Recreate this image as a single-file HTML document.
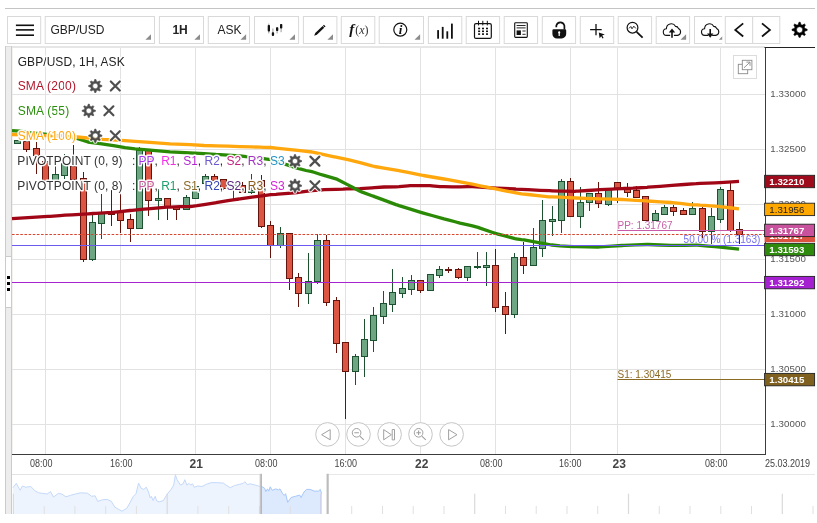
<!DOCTYPE html>
<html><head><meta charset="utf-8"><title>GBP/USD chart</title>
<style>html,body{margin:0;padding:0;background:#fff;}body{width:817px;height:523px;overflow:hidden;font-family:"Liberation Sans", sans-serif;}svg{display:block;will-change:transform;}text{font-family:"Liberation Sans", sans-serif;}</style>
</head><body>
<svg width="817" height="523" viewBox="0 0 817 523">
<rect width="817" height="523" fill="#fff"/>
<rect x="5" y="8" width="810" height="1" fill="#c4c4c4"/>
<rect x="5" y="46" width="760" height="2" fill="#e6e6e6"/>
<rect x="5" y="46" width="7" height="468" fill="#cbcbcb"/>
<rect x="6" y="46.5" width="5" height="467.5" fill="#ededed"/>
<rect x="12" y="48" width="1" height="406" fill="#f4f1f1"/>
<rect x="6" y="256" width="5" height="52" fill="#cbcbcb"/>
<rect x="6" y="257" width="5" height="50" fill="#fff"/>
<rect x="7" y="276" width="3" height="3" fill="#000"/>
<rect x="7" y="282" width="3" height="3" fill="#000"/>
<rect x="7" y="288" width="3" height="3" fill="#000"/>
<rect x="45.0" y="48" width="1" height="406" fill="#e2e2e2"/>
<rect x="120.0" y="48" width="1" height="406" fill="#e2e2e2"/>
<rect x="195.0" y="48" width="1" height="406" fill="#e2e2e2"/>
<rect x="270.0" y="48" width="1" height="406" fill="#e2e2e2"/>
<rect x="345.0" y="48" width="1" height="406" fill="#e2e2e2"/>
<rect x="420.0" y="48" width="1" height="406" fill="#e2e2e2"/>
<rect x="495.0" y="48" width="1" height="406" fill="#e2e2e2"/>
<rect x="570.0" y="48" width="1" height="406" fill="#e2e2e2"/>
<rect x="617.0" y="48" width="1" height="406" fill="#e2e2e2"/>
<rect x="720.0" y="48" width="1" height="406" fill="#e2e2e2"/>
<rect x="12" y="94.0" width="753" height="1" fill="#e2e2e2"/>
<rect x="12" y="149.0" width="753" height="1" fill="#e2e2e2"/>
<rect x="12" y="204.0" width="753" height="1" fill="#e2e2e2"/>
<rect x="12" y="259.0" width="753" height="1" fill="#e2e2e2"/>
<rect x="12" y="314.0" width="753" height="1" fill="#e2e2e2"/>
<rect x="12" y="369.0" width="753" height="1" fill="#e2e2e2"/>
<rect x="12" y="424.0" width="753" height="1" fill="#e2e2e2"/>
<text x="683.6" y="243.3" font-size="10" fill="#7570f0">50.00 % (1.3163)</text>
<g shape-rendering="crispEdges">
<rect x="17.0" y="140.0" width="1" height="3.0" fill="#1c5230"/>
<rect x="14.0" y="140" width="7" height="4" fill="#1c5230"/>
<rect x="15.0" y="141" width="5" height="2" fill="#6ea684"/>
<rect x="26.0" y="141.0" width="1" height="11.0" fill="#64140c"/>
<rect x="23.0" y="141" width="7" height="9" fill="#64140c"/>
<rect x="24.0" y="142" width="5" height="7" fill="#dc5442"/>
<rect x="36.0" y="142.0" width="1" height="32.0" fill="#64140c"/>
<rect x="33.0" y="148" width="7" height="8" fill="#64140c"/>
<rect x="34.0" y="149" width="5" height="6" fill="#dc5442"/>
<rect x="45.0" y="162.0" width="1" height="18.0" fill="#64140c"/>
<rect x="42.0" y="161" width="7" height="20" fill="#64140c"/>
<rect x="43.0" y="162" width="5" height="18" fill="#dc5442"/>
<rect x="55.0" y="166.0" width="1" height="14.0" fill="#1c5230"/>
<rect x="52.0" y="174" width="7" height="7" fill="#1c5230"/>
<rect x="53.0" y="175" width="5" height="5" fill="#6ea684"/>
<rect x="64.0" y="154.0" width="1" height="25.0" fill="#1c5230"/>
<rect x="61.0" y="163" width="7" height="13" fill="#1c5230"/>
<rect x="62.0" y="164" width="5" height="11" fill="#6ea684"/>
<rect x="73.0" y="145.0" width="1" height="35.0" fill="#64140c"/>
<rect x="70.0" y="166" width="7" height="14" fill="#64140c"/>
<rect x="71.0" y="167" width="5" height="12" fill="#dc5442"/>
<rect x="83.0" y="172.0" width="1" height="90.0" fill="#64140c"/>
<rect x="80.0" y="178" width="7" height="82" fill="#64140c"/>
<rect x="81.0" y="179" width="5" height="80" fill="#dc5442"/>
<rect x="92.0" y="215.0" width="1" height="46.0" fill="#1c5230"/>
<rect x="89.0" y="222" width="7" height="38" fill="#1c5230"/>
<rect x="90.0" y="223" width="5" height="36" fill="#6ea684"/>
<rect x="101.0" y="194.0" width="1" height="45.0" fill="#1c5230"/>
<rect x="98.0" y="212" width="7" height="12" fill="#1c5230"/>
<rect x="99.0" y="213" width="5" height="10" fill="#6ea684"/>
<rect x="111.0" y="190.0" width="1" height="36.0" fill="#64140c"/>
<rect x="108.0" y="212" width="7" height="3" fill="#64140c"/>
<rect x="109.0" y="213" width="5" height="1" fill="#dc5442"/>
<rect x="120.0" y="193.0" width="1" height="40.0" fill="#64140c"/>
<rect x="117.0" y="212" width="7" height="9" fill="#64140c"/>
<rect x="118.0" y="213" width="5" height="7" fill="#dc5442"/>
<rect x="130.0" y="214.0" width="1" height="28.0" fill="#64140c"/>
<rect x="127.0" y="219" width="7" height="10" fill="#64140c"/>
<rect x="128.0" y="220" width="5" height="8" fill="#dc5442"/>
<rect x="139.0" y="147.0" width="1" height="81.0" fill="#1c5230"/>
<rect x="136.0" y="150" width="7" height="79" fill="#1c5230"/>
<rect x="137.0" y="151" width="5" height="77" fill="#6ea684"/>
<rect x="148.0" y="151.0" width="1" height="65.0" fill="#64140c"/>
<rect x="145.0" y="150" width="7" height="51" fill="#64140c"/>
<rect x="146.0" y="151" width="5" height="49" fill="#dc5442"/>
<rect x="158.0" y="189.0" width="1" height="31.0" fill="#1c5230"/>
<rect x="155.0" y="198" width="7" height="3" fill="#1c5230"/>
<rect x="156.0" y="199" width="5" height="1" fill="#6ea684"/>
<rect x="167.0" y="198.0" width="1" height="22.0" fill="#64140c"/>
<rect x="164.0" y="198" width="7" height="9" fill="#64140c"/>
<rect x="165.0" y="199" width="5" height="7" fill="#dc5442"/>
<rect x="176.0" y="206.0" width="1" height="14.0" fill="#64140c"/>
<rect x="173.0" y="206" width="7" height="4" fill="#64140c"/>
<rect x="174.0" y="207" width="5" height="2" fill="#dc5442"/>
<rect x="186.0" y="195.0" width="1" height="14.0" fill="#1c5230"/>
<rect x="183.0" y="197" width="7" height="13" fill="#1c5230"/>
<rect x="184.0" y="198" width="5" height="11" fill="#6ea684"/>
<rect x="195.0" y="186.0" width="1" height="12.0" fill="#1c5230"/>
<rect x="192.0" y="186" width="7" height="13" fill="#1c5230"/>
<rect x="193.0" y="187" width="5" height="11" fill="#6ea684"/>
<rect x="205.0" y="174.0" width="1" height="9.0" fill="#1c5230"/>
<rect x="202.0" y="176" width="7" height="8" fill="#1c5230"/>
<rect x="203.0" y="177" width="5" height="6" fill="#6ea684"/>
<rect x="214.0" y="174.0" width="1" height="6.0" fill="#64140c"/>
<rect x="211.0" y="176" width="7" height="5" fill="#64140c"/>
<rect x="212.0" y="177" width="5" height="3" fill="#dc5442"/>
<rect x="223.0" y="179.0" width="1" height="11.0" fill="#64140c"/>
<rect x="220.0" y="179" width="7" height="10" fill="#64140c"/>
<rect x="221.0" y="180" width="5" height="8" fill="#dc5442"/>
<rect x="233.0" y="182.0" width="1" height="17.0" fill="#1c5230"/>
<rect x="230.0" y="184" width="7" height="5" fill="#1c5230"/>
<rect x="231.0" y="185" width="5" height="3" fill="#6ea684"/>
<rect x="242.0" y="182.0" width="1" height="10.0" fill="#64140c"/>
<rect x="239.0" y="185" width="7" height="8" fill="#64140c"/>
<rect x="240.0" y="186" width="5" height="6" fill="#dc5442"/>
<rect x="251.0" y="174.0" width="1" height="20.0" fill="#1c5230"/>
<rect x="248.0" y="190" width="7" height="3" fill="#1c5230"/>
<rect x="249.0" y="191" width="5" height="1" fill="#6ea684"/>
<rect x="261.0" y="175.0" width="1" height="53.0" fill="#64140c"/>
<rect x="258.0" y="180" width="7" height="47" fill="#64140c"/>
<rect x="259.0" y="181" width="5" height="45" fill="#dc5442"/>
<rect x="270.0" y="221.0" width="1" height="37.0" fill="#64140c"/>
<rect x="267.0" y="225" width="7" height="21" fill="#64140c"/>
<rect x="268.0" y="226" width="5" height="19" fill="#dc5442"/>
<rect x="280.0" y="227.0" width="1" height="21.0" fill="#1c5230"/>
<rect x="277.0" y="233" width="7" height="13" fill="#1c5230"/>
<rect x="278.0" y="234" width="5" height="11" fill="#6ea684"/>
<rect x="289.0" y="234.0" width="1" height="56.0" fill="#64140c"/>
<rect x="286.0" y="233" width="7" height="46" fill="#64140c"/>
<rect x="287.0" y="234" width="5" height="44" fill="#dc5442"/>
<rect x="298.0" y="273.0" width="1" height="34.0" fill="#64140c"/>
<rect x="295.0" y="277" width="7" height="17" fill="#64140c"/>
<rect x="296.0" y="278" width="5" height="15" fill="#dc5442"/>
<rect x="308.0" y="253.0" width="1" height="51.0" fill="#1c5230"/>
<rect x="305.0" y="281" width="7" height="13" fill="#1c5230"/>
<rect x="306.0" y="282" width="5" height="11" fill="#6ea684"/>
<rect x="317.0" y="234.0" width="1" height="50.0" fill="#1c5230"/>
<rect x="314.0" y="240" width="7" height="42" fill="#1c5230"/>
<rect x="315.0" y="241" width="5" height="40" fill="#6ea684"/>
<rect x="326.0" y="235.0" width="1" height="71.0" fill="#64140c"/>
<rect x="323.0" y="240" width="7" height="63" fill="#64140c"/>
<rect x="324.0" y="241" width="5" height="61" fill="#dc5442"/>
<rect x="336.0" y="297.0" width="1" height="56.0" fill="#64140c"/>
<rect x="333.0" y="300" width="7" height="44" fill="#64140c"/>
<rect x="334.0" y="301" width="5" height="42" fill="#dc5442"/>
<rect x="345.0" y="342.0" width="1" height="77.0" fill="#64140c"/>
<rect x="342.0" y="342" width="7" height="30" fill="#64140c"/>
<rect x="343.0" y="343" width="5" height="28" fill="#dc5442"/>
<rect x="355.0" y="354.0" width="1" height="31.0" fill="#1c5230"/>
<rect x="352.0" y="356" width="7" height="16" fill="#1c5230"/>
<rect x="353.0" y="357" width="5" height="14" fill="#6ea684"/>
<rect x="364.0" y="319.0" width="1" height="58.0" fill="#1c5230"/>
<rect x="361.0" y="339" width="7" height="18" fill="#1c5230"/>
<rect x="362.0" y="340" width="5" height="16" fill="#6ea684"/>
<rect x="373.0" y="307.0" width="1" height="45.0" fill="#1c5230"/>
<rect x="370.0" y="315" width="7" height="26" fill="#1c5230"/>
<rect x="371.0" y="316" width="5" height="24" fill="#6ea684"/>
<rect x="383.0" y="291.0" width="1" height="33.0" fill="#1c5230"/>
<rect x="380.0" y="303" width="7" height="14" fill="#1c5230"/>
<rect x="381.0" y="304" width="5" height="12" fill="#6ea684"/>
<rect x="392.0" y="269.0" width="1" height="43.0" fill="#1c5230"/>
<rect x="389.0" y="292" width="7" height="13" fill="#1c5230"/>
<rect x="390.0" y="293" width="5" height="11" fill="#6ea684"/>
<rect x="402.0" y="277.0" width="1" height="21.0" fill="#1c5230"/>
<rect x="399.0" y="288" width="7" height="6" fill="#1c5230"/>
<rect x="400.0" y="289" width="5" height="4" fill="#6ea684"/>
<rect x="411.0" y="275.0" width="1" height="20.0" fill="#1c5230"/>
<rect x="408.0" y="280" width="7" height="10" fill="#1c5230"/>
<rect x="409.0" y="281" width="5" height="8" fill="#6ea684"/>
<rect x="420.0" y="280.0" width="1" height="13.0" fill="#64140c"/>
<rect x="417.0" y="280" width="7" height="11" fill="#64140c"/>
<rect x="418.0" y="281" width="5" height="9" fill="#dc5442"/>
<rect x="430.0" y="274.0" width="1" height="16.0" fill="#1c5230"/>
<rect x="427.0" y="274" width="7" height="17" fill="#1c5230"/>
<rect x="428.0" y="275" width="5" height="15" fill="#6ea684"/>
<rect x="439.0" y="266.0" width="1" height="12.0" fill="#1c5230"/>
<rect x="436.0" y="269" width="7" height="7" fill="#1c5230"/>
<rect x="437.0" y="270" width="5" height="5" fill="#6ea684"/>
<rect x="448.0" y="267.0" width="1" height="6.0" fill="#64140c"/>
<rect x="445.0" y="269" width="7" height="2" fill="#64140c"/>
<rect x="458.0" y="268.0" width="1" height="11.0" fill="#64140c"/>
<rect x="455.0" y="269" width="7" height="9" fill="#64140c"/>
<rect x="456.0" y="270" width="5" height="7" fill="#dc5442"/>
<rect x="467.0" y="266.0" width="1" height="15.0" fill="#1c5230"/>
<rect x="464.0" y="266" width="7" height="12" fill="#1c5230"/>
<rect x="465.0" y="267" width="5" height="10" fill="#6ea684"/>
<rect x="477.0" y="252.0" width="1" height="17.0" fill="#1c5230"/>
<rect x="474.0" y="266" width="7" height="2" fill="#1c5230"/>
<rect x="486.0" y="252.0" width="1" height="34.0" fill="#1c5230"/>
<rect x="483.0" y="265" width="7" height="3" fill="#1c5230"/>
<rect x="484.0" y="266" width="5" height="1" fill="#6ea684"/>
<rect x="495.0" y="249.0" width="1" height="63.0" fill="#64140c"/>
<rect x="492.0" y="265" width="7" height="43" fill="#64140c"/>
<rect x="493.0" y="266" width="5" height="41" fill="#dc5442"/>
<rect x="505.0" y="292.0" width="1" height="42.0" fill="#64140c"/>
<rect x="502.0" y="306" width="7" height="9" fill="#64140c"/>
<rect x="503.0" y="307" width="5" height="7" fill="#dc5442"/>
<rect x="514.0" y="253.0" width="1" height="65.0" fill="#1c5230"/>
<rect x="511.0" y="257" width="7" height="58" fill="#1c5230"/>
<rect x="512.0" y="258" width="5" height="56" fill="#6ea684"/>
<rect x="523.0" y="242.0" width="1" height="32.0" fill="#64140c"/>
<rect x="520.0" y="257" width="7" height="9" fill="#64140c"/>
<rect x="521.0" y="258" width="5" height="7" fill="#dc5442"/>
<rect x="533.0" y="228.0" width="1" height="38.0" fill="#1c5230"/>
<rect x="530.0" y="247" width="7" height="19" fill="#1c5230"/>
<rect x="531.0" y="248" width="5" height="17" fill="#6ea684"/>
<rect x="542.0" y="200.0" width="1" height="57.0" fill="#1c5230"/>
<rect x="539.0" y="220" width="7" height="29" fill="#1c5230"/>
<rect x="540.0" y="221" width="5" height="27" fill="#6ea684"/>
<rect x="552.0" y="206.0" width="1" height="30.0" fill="#1c5230"/>
<rect x="549.0" y="219" width="7" height="3" fill="#1c5230"/>
<rect x="550.0" y="220" width="5" height="1" fill="#6ea684"/>
<rect x="561.0" y="179.0" width="1" height="54.0" fill="#1c5230"/>
<rect x="558.0" y="181" width="7" height="40" fill="#1c5230"/>
<rect x="559.0" y="182" width="5" height="38" fill="#6ea684"/>
<rect x="570.0" y="178.0" width="1" height="39.0" fill="#64140c"/>
<rect x="567.0" y="181" width="7" height="36" fill="#64140c"/>
<rect x="568.0" y="182" width="5" height="34" fill="#dc5442"/>
<rect x="580.0" y="187.0" width="1" height="41.0" fill="#1c5230"/>
<rect x="577.0" y="202" width="7" height="15" fill="#1c5230"/>
<rect x="578.0" y="203" width="5" height="13" fill="#6ea684"/>
<rect x="589.0" y="194.0" width="1" height="17.0" fill="#1c5230"/>
<rect x="586.0" y="193" width="7" height="10" fill="#1c5230"/>
<rect x="587.0" y="194" width="5" height="8" fill="#6ea684"/>
<rect x="598.0" y="182.0" width="1" height="26.0" fill="#64140c"/>
<rect x="595.0" y="193" width="7" height="11" fill="#64140c"/>
<rect x="596.0" y="194" width="5" height="9" fill="#dc5442"/>
<rect x="608.0" y="189.0" width="1" height="17.0" fill="#1c5230"/>
<rect x="605.0" y="189" width="7" height="16" fill="#1c5230"/>
<rect x="606.0" y="190" width="5" height="14" fill="#6ea684"/>
<rect x="617.0" y="182.0" width="1" height="21.0" fill="#64140c"/>
<rect x="614.0" y="182" width="7" height="8" fill="#64140c"/>
<rect x="615.0" y="183" width="5" height="6" fill="#dc5442"/>
<rect x="627.0" y="183.0" width="1" height="14.0" fill="#64140c"/>
<rect x="624.0" y="187" width="7" height="6" fill="#64140c"/>
<rect x="625.0" y="188" width="5" height="4" fill="#dc5442"/>
<rect x="636.0" y="186.0" width="1" height="12.0" fill="#64140c"/>
<rect x="633.0" y="190" width="7" height="8" fill="#64140c"/>
<rect x="634.0" y="191" width="5" height="6" fill="#dc5442"/>
<rect x="645.0" y="196.0" width="1" height="24.0" fill="#64140c"/>
<rect x="642.0" y="196" width="7" height="25" fill="#64140c"/>
<rect x="643.0" y="197" width="5" height="23" fill="#dc5442"/>
<rect x="655.0" y="210.0" width="1" height="10.0" fill="#1c5230"/>
<rect x="652.0" y="213" width="7" height="8" fill="#1c5230"/>
<rect x="653.0" y="214" width="5" height="6" fill="#6ea684"/>
<rect x="664.0" y="205.0" width="1" height="9.0" fill="#1c5230"/>
<rect x="661.0" y="207" width="7" height="8" fill="#1c5230"/>
<rect x="662.0" y="208" width="5" height="6" fill="#6ea684"/>
<rect x="673.0" y="205.0" width="1" height="11.0" fill="#64140c"/>
<rect x="670.0" y="207" width="7" height="5" fill="#64140c"/>
<rect x="671.0" y="208" width="5" height="3" fill="#dc5442"/>
<rect x="683.0" y="208.0" width="1" height="6.0" fill="#64140c"/>
<rect x="680.0" y="210" width="7" height="5" fill="#64140c"/>
<rect x="681.0" y="211" width="5" height="3" fill="#dc5442"/>
<rect x="692.0" y="202.0" width="1" height="12.0" fill="#1c5230"/>
<rect x="689.0" y="208" width="7" height="7" fill="#1c5230"/>
<rect x="690.0" y="209" width="5" height="5" fill="#6ea684"/>
<rect x="702.0" y="207.0" width="1" height="31.0" fill="#64140c"/>
<rect x="699.0" y="208" width="7" height="24" fill="#64140c"/>
<rect x="700.0" y="209" width="5" height="22" fill="#dc5442"/>
<rect x="711.0" y="208.0" width="1" height="36.0" fill="#1c5230"/>
<rect x="708.0" y="216" width="7" height="16" fill="#1c5230"/>
<rect x="709.0" y="217" width="5" height="14" fill="#6ea684"/>
<rect x="720.0" y="187.0" width="1" height="36.0" fill="#1c5230"/>
<rect x="717.0" y="189" width="7" height="31" fill="#1c5230"/>
<rect x="718.0" y="190" width="5" height="29" fill="#6ea684"/>
<rect x="730.0" y="181.0" width="1" height="51.0" fill="#64140c"/>
<rect x="727.0" y="190" width="7" height="41" fill="#64140c"/>
<rect x="728.0" y="191" width="5" height="39" fill="#dc5442"/>
<rect x="739.0" y="222.0" width="1" height="22.0" fill="#64140c"/>
<rect x="736.0" y="229" width="7" height="6" fill="#64140c"/>
<rect x="737.0" y="230" width="5" height="4" fill="#dc5442"/>
</g>
<polyline points="12.0,218.7 24.0,217.9 36.0,217.2 48.0,216.4 50.0,216.3 60.0,215.6 65.0,215.2 72.0,214.8 84.0,214.1 88.3,213.8 93.0,213.5 96.0,213.4 108.0,212.7 111.0,212.6 120.0,211.6 130.0,210.5 132.0,210.3 144.0,209.2 148.0,208.8 156.0,208.1 167.0,207.2 168.0,207.2 170.0,207.1 180.0,206.7 190.0,206.5 192.0,206.3 197.0,205.7 204.0,204.6 215.0,202.8 216.0,202.7 228.0,200.6 233.0,199.8 239.0,199.0 240.0,198.8 252.0,197.2 256.0,196.6 264.0,195.6 270.8,194.7 276.0,194.4 278.0,194.2 288.0,193.4 297.0,192.6 300.0,192.2 312.0,190.7 322.0,189.8 324.0,189.7 336.0,189.3 343.0,189.1 346.7,188.9 348.0,188.9 360.0,188.6 372.0,187.8 374.5,187.6 384.0,187.0 396.0,186.8 399.0,186.7 408.0,185.8 410.0,185.6 415.0,185.6 420.0,185.6 430.0,185.6 432.0,185.8 440.0,186.6 444.0,186.7 452.0,186.9 456.0,186.9 460.0,186.8 468.0,186.7 472.4,186.7 480.0,187.2 492.0,187.9 496.9,188.2 504.0,188.5 515.0,189.0 516.0,189.1 521.4,189.4 528.0,189.7 540.0,190.3 550.0,190.7 552.0,190.8 560.0,191.1 564.0,191.1 575.0,191.3 576.0,191.2 578.0,191.1 588.0,190.5 597.0,189.9 600.0,189.7 612.0,189.1 615.0,188.9 622.0,188.6 624.0,188.5 633.0,188.2 636.0,188.0 647.0,187.3 648.0,187.2 660.0,186.3 672.0,185.4 684.0,184.5 696.0,183.7 697.0,183.6 700.0,183.4 708.0,183.2 715.0,182.9 720.0,182.6 732.0,181.8 739.0,181.3" fill="none" stroke="#a00616" stroke-width="3.3" stroke-linejoin="round" stroke-linecap="butt"/>
<polyline points="12.0,130.6 20.0,131.2 30.0,132.6 40.0,133.6 60.0,135.8 77.0,138.4 88.0,142.0 100.0,143.6 115.0,145.8 125.0,147.6 135.0,148.8 150.0,150.1 170.0,151.8 190.0,152.8 204.0,153.6 215.0,154.3 216.0,154.4 228.0,155.1 239.0,155.8 240.0,155.9 246.0,156.7 252.0,157.3 264.0,158.7 265.0,158.8 270.8,159.6 276.0,161.3 288.0,165.1 292.8,166.8 300.0,168.9 306.0,170.5 312.0,171.7 312.4,171.8 320.0,174.2 324.0,175.4 336.0,178.9 337.0,179.2 348.0,184.9 350.0,186.0 352.0,187.0 360.0,191.2 362.2,192.1 372.0,195.7 374.0,196.4 374.5,196.6 384.0,200.1 396.0,204.6 397.0,204.9 399.0,205.6 408.0,208.4 420.0,212.1 423.4,213.1 432.0,215.5 444.0,218.8 448.0,219.8 456.0,222.0 460.0,223.2 468.0,224.9 472.4,225.9 478.0,227.4 480.0,228.1 492.0,232.2 496.9,233.8 497.0,233.8 504.0,235.7 515.0,238.7 516.0,238.8 521.4,239.7 524.0,239.8 528.0,240.6 536.0,242.1 540.0,242.9 542.0,243.2 551.4,245.0 552.0,245.0 560.0,245.8 564.0,246.1 573.0,246.7 576.0,246.7 588.0,246.9 598.0,247.0 600.0,246.9 612.0,246.1 622.0,245.5 624.0,245.4 636.0,244.9 647.0,244.5 648.0,244.5 660.0,245.0 671.0,245.3 672.0,245.3 684.0,245.3 696.0,245.2 697.0,245.2 700.0,245.3 708.0,246.1 715.0,246.7 720.0,247.2 732.0,248.4 739.0,249.1" fill="none" stroke="#2a8a06" stroke-width="3.3" stroke-linejoin="round" stroke-linecap="butt"/>
<polyline points="12.0,134.5 40.0,135.4 77.0,137.0 103.0,139.3 125.0,140.7 135.0,141.4 150.0,142.3 170.0,143.9 190.0,144.7 204.0,145.5 216.0,145.8 228.0,146.2 240.0,146.6 252.0,146.9 260.0,147.2 264.0,147.3 270.8,147.5 276.0,148.1 288.0,149.4 300.0,150.7 312.0,152.0 315.0,152.7 324.0,154.6 333.0,156.6 336.0,157.2 346.7,159.4 348.0,159.7 360.0,162.6 372.0,165.9 374.5,166.5 384.0,168.1 396.0,170.1 399.0,170.6 400.0,170.8 408.0,172.4 420.0,174.8 423.4,175.5 432.0,177.0 444.0,179.0 448.0,179.7 456.0,181.1 460.0,181.9 468.0,183.4 472.4,184.2 480.0,185.8 492.0,188.2 496.9,189.2 504.0,190.6 516.0,192.8 521.4,193.8 524.0,194.1 528.0,194.5 540.0,195.8 549.0,196.8 552.0,196.9 560.0,197.2 564.0,197.4 576.0,198.0 585.7,198.4 588.0,198.5 600.0,198.9 612.0,199.2 622.0,199.5 624.0,199.6 636.0,200.3 647.0,200.9 648.0,201.0 660.0,201.8 671.0,202.5 672.0,202.6 680.0,203.4 684.0,203.8 692.0,204.8 696.0,204.9 697.0,204.9 700.0,205.2 708.0,205.7 710.0,205.8 715.0,206.2 718.7,206.4 720.0,206.6 732.0,208.0 739.0,208.8" fill="none" stroke="#ffa70c" stroke-width="3.3" stroke-linejoin="round" stroke-linecap="butt"/>
<rect x="12" y="282" width="753" height="1" fill="#a424d0"/>
<rect x="12" y="245" width="753" height="1" fill="#6a5af0"/>
<line x1="12" y1="234.5" x2="765" y2="234.5" stroke="#d9452f" stroke-width="1" stroke-dasharray="2.6,1.55"/>
<rect x="617.5" y="230" width="148" height="1" fill="#c85aa8"/>
<rect x="617.5" y="379" width="148" height="1" fill="#8b6a24"/>
<text x="617.5" y="229" font-size="10" fill="#c562a8">PP: 1.31767</text>
<text x="617.5" y="378" font-size="10" fill="#8b6a24">S1: 1.30415</text>
<text x="17.70" y="65.7" font-size="12" fill="#222" stroke="#fff" stroke-width="3.0" stroke-linejoin="round" paint-order="stroke" stroke-opacity="0.95" textLength="107" xml:space="preserve">GBP/USD, 1H, ASK</text>
<text x="17.65" y="89.8" font-size="12" fill="#b0152a" stroke="#fff" stroke-width="3.0" stroke-linejoin="round" paint-order="stroke" stroke-opacity="0.95" textLength="58.3" xml:space="preserve">SMA (200)</text>
<path d="M93.57 81.74 L94.15 81.29 L94.75 79.32 L95.85 79.32 L96.45 81.29 L97.03 81.74 L97.09 81.76 L97.82 81.86 L99.63 80.89 L100.41 81.67 L99.44 83.48 L99.54 84.21 L99.56 84.27 L100.01 84.85 L101.98 85.45 L101.98 86.55 L100.01 87.15 L99.56 87.73 L99.54 87.79 L99.44 88.52 L100.41 90.33 L99.63 91.11 L97.82 90.14 L97.09 90.24 L97.03 90.26 L96.45 90.71 L95.85 92.68 L94.75 92.68 L94.15 90.71 L93.57 90.26 L93.51 90.24 L92.78 90.14 L90.97 91.11 L90.19 90.33 L91.16 88.52 L91.06 87.79 L91.04 87.73 L90.59 87.15 L88.62 86.55 L88.62 85.45 L90.59 84.85 L91.04 84.27 L91.06 84.21 L91.16 83.48 L90.19 81.67 L90.97 80.89 L92.78 81.86 L93.51 81.76 Z M92.60 86.00 a2.70 2.70 0 1 0 5.40 0 a2.70 2.70 0 1 0 -5.40 0 Z" fill="none" stroke="#fff" stroke-width="2.8" stroke-linejoin="round" opacity="0.85"/>
<path d="M93.57 81.74 L94.15 81.29 L94.75 79.32 L95.85 79.32 L96.45 81.29 L97.03 81.74 L97.09 81.76 L97.82 81.86 L99.63 80.89 L100.41 81.67 L99.44 83.48 L99.54 84.21 L99.56 84.27 L100.01 84.85 L101.98 85.45 L101.98 86.55 L100.01 87.15 L99.56 87.73 L99.54 87.79 L99.44 88.52 L100.41 90.33 L99.63 91.11 L97.82 90.14 L97.09 90.24 L97.03 90.26 L96.45 90.71 L95.85 92.68 L94.75 92.68 L94.15 90.71 L93.57 90.26 L93.51 90.24 L92.78 90.14 L90.97 91.11 L90.19 90.33 L91.16 88.52 L91.06 87.79 L91.04 87.73 L90.59 87.15 L88.62 86.55 L88.62 85.45 L90.59 84.85 L91.04 84.27 L91.06 84.21 L91.16 83.48 L90.19 81.67 L90.97 80.89 L92.78 81.86 L93.51 81.76 Z M92.60 86.00 a2.70 2.70 0 1 0 5.40 0 a2.70 2.70 0 1 0 -5.40 0 Z" fill="#000" fill-rule="evenodd" stroke="#000" stroke-width="0.6" stroke-linejoin="round" opacity="0.69"/>
<path d="M110.8 81.5 L119.8 90.5 M119.8 81.5 L110.8 90.5" stroke="#fff" stroke-width="4.6" stroke-linecap="round" fill="none" opacity="0.9"/>
<g opacity="0.69"><path d="M110.8 81.5 L119.8 90.5 M119.8 81.5 L110.8 90.5" stroke="#000" stroke-width="2.2" stroke-linecap="round" fill="none"/></g>
<text x="17.65" y="114.6" font-size="12" fill="#2b8f0e" stroke="#fff" stroke-width="3.0" stroke-linejoin="round" paint-order="stroke" stroke-opacity="0.95" textLength="51.6" xml:space="preserve">SMA (55)</text>
<path d="M87.07 106.54 L87.65 106.09 L88.25 104.12 L89.35 104.12 L89.95 106.09 L90.53 106.54 L90.59 106.56 L91.32 106.66 L93.13 105.69 L93.91 106.47 L92.94 108.28 L93.04 109.01 L93.06 109.07 L93.51 109.65 L95.48 110.25 L95.48 111.35 L93.51 111.95 L93.06 112.53 L93.04 112.59 L92.94 113.32 L93.91 115.13 L93.13 115.91 L91.32 114.94 L90.59 115.04 L90.53 115.06 L89.95 115.51 L89.35 117.48 L88.25 117.48 L87.65 115.51 L87.07 115.06 L87.01 115.04 L86.28 114.94 L84.47 115.91 L83.69 115.13 L84.66 113.32 L84.56 112.59 L84.54 112.53 L84.09 111.95 L82.12 111.35 L82.12 110.25 L84.09 109.65 L84.54 109.07 L84.56 109.01 L84.66 108.28 L83.69 106.47 L84.47 105.69 L86.28 106.66 L87.01 106.56 Z M86.10 110.80 a2.70 2.70 0 1 0 5.40 0 a2.70 2.70 0 1 0 -5.40 0 Z" fill="none" stroke="#fff" stroke-width="2.8" stroke-linejoin="round" opacity="0.85"/>
<path d="M87.07 106.54 L87.65 106.09 L88.25 104.12 L89.35 104.12 L89.95 106.09 L90.53 106.54 L90.59 106.56 L91.32 106.66 L93.13 105.69 L93.91 106.47 L92.94 108.28 L93.04 109.01 L93.06 109.07 L93.51 109.65 L95.48 110.25 L95.48 111.35 L93.51 111.95 L93.06 112.53 L93.04 112.59 L92.94 113.32 L93.91 115.13 L93.13 115.91 L91.32 114.94 L90.59 115.04 L90.53 115.06 L89.95 115.51 L89.35 117.48 L88.25 117.48 L87.65 115.51 L87.07 115.06 L87.01 115.04 L86.28 114.94 L84.47 115.91 L83.69 115.13 L84.66 113.32 L84.56 112.59 L84.54 112.53 L84.09 111.95 L82.12 111.35 L82.12 110.25 L84.09 109.65 L84.54 109.07 L84.56 109.01 L84.66 108.28 L83.69 106.47 L84.47 105.69 L86.28 106.66 L87.01 106.56 Z M86.10 110.80 a2.70 2.70 0 1 0 5.40 0 a2.70 2.70 0 1 0 -5.40 0 Z" fill="#000" fill-rule="evenodd" stroke="#000" stroke-width="0.6" stroke-linejoin="round" opacity="0.69"/>
<path d="M104.4 106.3 L113.4 115.3 M113.4 106.3 L104.4 115.3" stroke="#fff" stroke-width="4.6" stroke-linecap="round" fill="none" opacity="0.9"/>
<g opacity="0.69"><path d="M104.4 106.3 L113.4 115.3 M113.4 106.3 L104.4 115.3" stroke="#000" stroke-width="2.2" stroke-linecap="round" fill="none"/></g>
<text x="17.65" y="139.5" font-size="12" fill="#ffa510" stroke="#fff" stroke-width="3.0" stroke-linejoin="round" paint-order="stroke" stroke-opacity="0.95" textLength="58.3" xml:space="preserve">SMA (100)</text>
<path d="M93.57 131.44 L94.15 130.99 L94.75 129.02 L95.85 129.02 L96.45 130.99 L97.03 131.44 L97.09 131.46 L97.82 131.56 L99.63 130.59 L100.41 131.37 L99.44 133.18 L99.54 133.91 L99.56 133.97 L100.01 134.55 L101.98 135.15 L101.98 136.25 L100.01 136.85 L99.56 137.43 L99.54 137.49 L99.44 138.22 L100.41 140.03 L99.63 140.81 L97.82 139.84 L97.09 139.94 L97.03 139.96 L96.45 140.41 L95.85 142.38 L94.75 142.38 L94.15 140.41 L93.57 139.96 L93.51 139.94 L92.78 139.84 L90.97 140.81 L90.19 140.03 L91.16 138.22 L91.06 137.49 L91.04 137.43 L90.59 136.85 L88.62 136.25 L88.62 135.15 L90.59 134.55 L91.04 133.97 L91.06 133.91 L91.16 133.18 L90.19 131.37 L90.97 130.59 L92.78 131.56 L93.51 131.46 Z M92.60 135.70 a2.70 2.70 0 1 0 5.40 0 a2.70 2.70 0 1 0 -5.40 0 Z" fill="none" stroke="#fff" stroke-width="2.8" stroke-linejoin="round" opacity="0.85"/>
<path d="M93.57 131.44 L94.15 130.99 L94.75 129.02 L95.85 129.02 L96.45 130.99 L97.03 131.44 L97.09 131.46 L97.82 131.56 L99.63 130.59 L100.41 131.37 L99.44 133.18 L99.54 133.91 L99.56 133.97 L100.01 134.55 L101.98 135.15 L101.98 136.25 L100.01 136.85 L99.56 137.43 L99.54 137.49 L99.44 138.22 L100.41 140.03 L99.63 140.81 L97.82 139.84 L97.09 139.94 L97.03 139.96 L96.45 140.41 L95.85 142.38 L94.75 142.38 L94.15 140.41 L93.57 139.96 L93.51 139.94 L92.78 139.84 L90.97 140.81 L90.19 140.03 L91.16 138.22 L91.06 137.49 L91.04 137.43 L90.59 136.85 L88.62 136.25 L88.62 135.15 L90.59 134.55 L91.04 133.97 L91.06 133.91 L91.16 133.18 L90.19 131.37 L90.97 130.59 L92.78 131.56 L93.51 131.46 Z M92.60 135.70 a2.70 2.70 0 1 0 5.40 0 a2.70 2.70 0 1 0 -5.40 0 Z" fill="#000" fill-rule="evenodd" stroke="#000" stroke-width="0.6" stroke-linejoin="round" opacity="0.69"/>
<path d="M110.8 131.2 L119.8 140.2 M119.8 131.2 L110.8 140.2" stroke="#fff" stroke-width="4.6" stroke-linecap="round" fill="none" opacity="0.9"/>
<g opacity="0.69"><path d="M110.8 131.2 L119.8 140.2 M119.8 131.2 L110.8 140.2" stroke="#000" stroke-width="2.2" stroke-linecap="round" fill="none"/></g>
<text x="17.30" y="164.9" font-size="12" fill="#333" stroke="#fff" stroke-width="3.0" stroke-linejoin="round" paint-order="stroke" stroke-opacity="0.95" textLength="105.3" xml:space="preserve">PIVOTPOINT (0, 9)</text>
<text x="131.90" y="164.9" font-size="12" fill="#333" stroke="#fff" stroke-width="3.0" stroke-linejoin="round" paint-order="stroke" stroke-opacity="0.95"  xml:space="preserve">:</text>
<text x="138.50" y="164.9" font-size="12" fill="#a535e8" stroke="#fff" stroke-width="3.0" stroke-linejoin="round" paint-order="stroke" stroke-opacity="0.95"  xml:space="preserve">PP</text>
<text x="154.50" y="164.9" font-size="12" fill="#2a2a2a" stroke="#fff" stroke-width="3.0" stroke-linejoin="round" paint-order="stroke" stroke-opacity="0.95"  xml:space="preserve">,</text>
<text x="161.17" y="164.9" font-size="12" fill="#f232e6" stroke="#fff" stroke-width="3.0" stroke-linejoin="round" paint-order="stroke" stroke-opacity="0.95"  xml:space="preserve">R1</text>
<text x="176.51" y="164.9" font-size="12" fill="#2a2a2a" stroke="#fff" stroke-width="3.0" stroke-linejoin="round" paint-order="stroke" stroke-opacity="0.95"  xml:space="preserve">,</text>
<text x="183.18" y="164.9" font-size="12" fill="#b424d4" stroke="#fff" stroke-width="3.0" stroke-linejoin="round" paint-order="stroke" stroke-opacity="0.95"  xml:space="preserve">S1</text>
<text x="197.85" y="164.9" font-size="12" fill="#2a2a2a" stroke="#fff" stroke-width="3.0" stroke-linejoin="round" paint-order="stroke" stroke-opacity="0.95"  xml:space="preserve">,</text>
<text x="204.52" y="164.9" font-size="12" fill="#6a5acd" stroke="#fff" stroke-width="3.0" stroke-linejoin="round" paint-order="stroke" stroke-opacity="0.95"  xml:space="preserve">R2</text>
<text x="219.86" y="164.9" font-size="12" fill="#2a2a2a" stroke="#fff" stroke-width="3.0" stroke-linejoin="round" paint-order="stroke" stroke-opacity="0.95"  xml:space="preserve">,</text>
<text x="226.53" y="164.9" font-size="12" fill="#c41f7c" stroke="#fff" stroke-width="3.0" stroke-linejoin="round" paint-order="stroke" stroke-opacity="0.95"  xml:space="preserve">S2</text>
<text x="241.20" y="164.9" font-size="12" fill="#2a2a2a" stroke="#fff" stroke-width="3.0" stroke-linejoin="round" paint-order="stroke" stroke-opacity="0.95"  xml:space="preserve">,</text>
<text x="247.87" y="164.9" font-size="12" fill="#a432c4" stroke="#fff" stroke-width="3.0" stroke-linejoin="round" paint-order="stroke" stroke-opacity="0.95"  xml:space="preserve">R3</text>
<text x="263.21" y="164.9" font-size="12" fill="#2a2a2a" stroke="#fff" stroke-width="3.0" stroke-linejoin="round" paint-order="stroke" stroke-opacity="0.95"  xml:space="preserve">,</text>
<text x="269.88" y="164.9" font-size="12" fill="#2492c4" stroke="#fff" stroke-width="3.0" stroke-linejoin="round" paint-order="stroke" stroke-opacity="0.95"  xml:space="preserve">S3</text>
<path d="M293.27 156.84 L293.85 156.39 L294.45 154.42 L295.55 154.42 L296.15 156.39 L296.73 156.84 L296.79 156.86 L297.52 156.96 L299.33 155.99 L300.11 156.77 L299.14 158.58 L299.24 159.31 L299.26 159.37 L299.71 159.95 L301.68 160.55 L301.68 161.65 L299.71 162.25 L299.26 162.83 L299.24 162.89 L299.14 163.62 L300.11 165.43 L299.33 166.21 L297.52 165.24 L296.79 165.34 L296.73 165.36 L296.15 165.81 L295.55 167.78 L294.45 167.78 L293.85 165.81 L293.27 165.36 L293.21 165.34 L292.48 165.24 L290.67 166.21 L289.89 165.43 L290.86 163.62 L290.76 162.89 L290.74 162.83 L290.29 162.25 L288.32 161.65 L288.32 160.55 L290.29 159.95 L290.74 159.37 L290.76 159.31 L290.86 158.58 L289.89 156.77 L290.67 155.99 L292.48 156.96 L293.21 156.86 Z M292.30 161.10 a2.70 2.70 0 1 0 5.40 0 a2.70 2.70 0 1 0 -5.40 0 Z" fill="none" stroke="#fff" stroke-width="2.8" stroke-linejoin="round" opacity="0.85"/>
<path d="M293.27 156.84 L293.85 156.39 L294.45 154.42 L295.55 154.42 L296.15 156.39 L296.73 156.84 L296.79 156.86 L297.52 156.96 L299.33 155.99 L300.11 156.77 L299.14 158.58 L299.24 159.31 L299.26 159.37 L299.71 159.95 L301.68 160.55 L301.68 161.65 L299.71 162.25 L299.26 162.83 L299.24 162.89 L299.14 163.62 L300.11 165.43 L299.33 166.21 L297.52 165.24 L296.79 165.34 L296.73 165.36 L296.15 165.81 L295.55 167.78 L294.45 167.78 L293.85 165.81 L293.27 165.36 L293.21 165.34 L292.48 165.24 L290.67 166.21 L289.89 165.43 L290.86 163.62 L290.76 162.89 L290.74 162.83 L290.29 162.25 L288.32 161.65 L288.32 160.55 L290.29 159.95 L290.74 159.37 L290.76 159.31 L290.86 158.58 L289.89 156.77 L290.67 155.99 L292.48 156.96 L293.21 156.86 Z M292.30 161.10 a2.70 2.70 0 1 0 5.40 0 a2.70 2.70 0 1 0 -5.40 0 Z" fill="#000" fill-rule="evenodd" stroke="#000" stroke-width="0.6" stroke-linejoin="round" opacity="0.69"/>
<path d="M310.4 156.6 L319.4 165.6 M319.4 156.6 L310.4 165.6" stroke="#fff" stroke-width="4.6" stroke-linecap="round" fill="none" opacity="0.9"/>
<g opacity="0.69"><path d="M310.4 156.6 L319.4 165.6 M319.4 156.6 L310.4 165.6" stroke="#000" stroke-width="2.2" stroke-linecap="round" fill="none"/></g>
<text x="17.30" y="189.5" font-size="12" fill="#333" stroke="#fff" stroke-width="3.0" stroke-linejoin="round" paint-order="stroke" stroke-opacity="0.95" textLength="105.3" xml:space="preserve">PIVOTPOINT (0, 8)</text>
<text x="131.90" y="189.5" font-size="12" fill="#333" stroke="#fff" stroke-width="3.0" stroke-linejoin="round" paint-order="stroke" stroke-opacity="0.95"  xml:space="preserve">:</text>
<text x="138.50" y="189.5" font-size="12" fill="#c55a9e" stroke="#fff" stroke-width="3.0" stroke-linejoin="round" paint-order="stroke" stroke-opacity="0.95"  xml:space="preserve">PP</text>
<text x="154.50" y="189.5" font-size="12" fill="#2a2a2a" stroke="#fff" stroke-width="3.0" stroke-linejoin="round" paint-order="stroke" stroke-opacity="0.95"  xml:space="preserve">,</text>
<text x="161.17" y="189.5" font-size="12" fill="#1fa070" stroke="#fff" stroke-width="3.0" stroke-linejoin="round" paint-order="stroke" stroke-opacity="0.95"  xml:space="preserve">R1</text>
<text x="176.51" y="189.5" font-size="12" fill="#2a2a2a" stroke="#fff" stroke-width="3.0" stroke-linejoin="round" paint-order="stroke" stroke-opacity="0.95"  xml:space="preserve">,</text>
<text x="183.18" y="189.5" font-size="12" fill="#8b6a24" stroke="#fff" stroke-width="3.0" stroke-linejoin="round" paint-order="stroke" stroke-opacity="0.95"  xml:space="preserve">S1</text>
<text x="197.85" y="189.5" font-size="12" fill="#2a2a2a" stroke="#fff" stroke-width="3.0" stroke-linejoin="round" paint-order="stroke" stroke-opacity="0.95"  xml:space="preserve">,</text>
<text x="204.52" y="189.5" font-size="12" fill="#3344b4" stroke="#fff" stroke-width="3.0" stroke-linejoin="round" paint-order="stroke" stroke-opacity="0.95"  xml:space="preserve">R2</text>
<text x="219.86" y="189.5" font-size="12" fill="#2a2a2a" stroke="#fff" stroke-width="3.0" stroke-linejoin="round" paint-order="stroke" stroke-opacity="0.95"  xml:space="preserve">,</text>
<text x="226.53" y="189.5" font-size="12" fill="#55267a" stroke="#fff" stroke-width="3.0" stroke-linejoin="round" paint-order="stroke" stroke-opacity="0.95"  xml:space="preserve">S2</text>
<text x="241.20" y="189.5" font-size="12" fill="#2a2a2a" stroke="#fff" stroke-width="3.0" stroke-linejoin="round" paint-order="stroke" stroke-opacity="0.95"  xml:space="preserve">,</text>
<text x="247.87" y="189.5" font-size="12" fill="#8b5a14" stroke="#fff" stroke-width="3.0" stroke-linejoin="round" paint-order="stroke" stroke-opacity="0.95"  xml:space="preserve">R3</text>
<text x="263.21" y="189.5" font-size="12" fill="#2a2a2a" stroke="#fff" stroke-width="3.0" stroke-linejoin="round" paint-order="stroke" stroke-opacity="0.95"  xml:space="preserve">,</text>
<text x="269.88" y="189.5" font-size="12" fill="#d424d4" stroke="#fff" stroke-width="3.0" stroke-linejoin="round" paint-order="stroke" stroke-opacity="0.95"  xml:space="preserve">S3</text>
<path d="M293.27 181.44 L293.85 180.99 L294.45 179.02 L295.55 179.02 L296.15 180.99 L296.73 181.44 L296.79 181.46 L297.52 181.56 L299.33 180.59 L300.11 181.37 L299.14 183.18 L299.24 183.91 L299.26 183.97 L299.71 184.55 L301.68 185.15 L301.68 186.25 L299.71 186.85 L299.26 187.43 L299.24 187.49 L299.14 188.22 L300.11 190.03 L299.33 190.81 L297.52 189.84 L296.79 189.94 L296.73 189.96 L296.15 190.41 L295.55 192.38 L294.45 192.38 L293.85 190.41 L293.27 189.96 L293.21 189.94 L292.48 189.84 L290.67 190.81 L289.89 190.03 L290.86 188.22 L290.76 187.49 L290.74 187.43 L290.29 186.85 L288.32 186.25 L288.32 185.15 L290.29 184.55 L290.74 183.97 L290.76 183.91 L290.86 183.18 L289.89 181.37 L290.67 180.59 L292.48 181.56 L293.21 181.46 Z M292.30 185.70 a2.70 2.70 0 1 0 5.40 0 a2.70 2.70 0 1 0 -5.40 0 Z" fill="none" stroke="#fff" stroke-width="2.8" stroke-linejoin="round" opacity="0.85"/>
<path d="M293.27 181.44 L293.85 180.99 L294.45 179.02 L295.55 179.02 L296.15 180.99 L296.73 181.44 L296.79 181.46 L297.52 181.56 L299.33 180.59 L300.11 181.37 L299.14 183.18 L299.24 183.91 L299.26 183.97 L299.71 184.55 L301.68 185.15 L301.68 186.25 L299.71 186.85 L299.26 187.43 L299.24 187.49 L299.14 188.22 L300.11 190.03 L299.33 190.81 L297.52 189.84 L296.79 189.94 L296.73 189.96 L296.15 190.41 L295.55 192.38 L294.45 192.38 L293.85 190.41 L293.27 189.96 L293.21 189.94 L292.48 189.84 L290.67 190.81 L289.89 190.03 L290.86 188.22 L290.76 187.49 L290.74 187.43 L290.29 186.85 L288.32 186.25 L288.32 185.15 L290.29 184.55 L290.74 183.97 L290.76 183.91 L290.86 183.18 L289.89 181.37 L290.67 180.59 L292.48 181.56 L293.21 181.46 Z M292.30 185.70 a2.70 2.70 0 1 0 5.40 0 a2.70 2.70 0 1 0 -5.40 0 Z" fill="#000" fill-rule="evenodd" stroke="#000" stroke-width="0.6" stroke-linejoin="round" opacity="0.69"/>
<path d="M310.4 181.2 L319.4 190.2 M319.4 181.2 L310.4 190.2" stroke="#fff" stroke-width="4.6" stroke-linecap="round" fill="none" opacity="0.9"/>
<g opacity="0.69"><path d="M310.4 181.2 L319.4 190.2 M319.4 181.2 L310.4 190.2" stroke="#000" stroke-width="2.2" stroke-linecap="round" fill="none"/></g>
<rect x="733.5" y="55.5" width="23" height="23" fill="#fff" stroke="#dcdcdc" stroke-width="1"/>
<rect x="738.3" y="64.3" width="9.4" height="9.4" fill="#fff" stroke="#8a8a8a" stroke-width="0.9"/>
<rect x="742.3" y="60.3" width="9.6" height="9.4" fill="#fff" stroke="#8a8a8a" stroke-width="0.9"/>
<path d="M744 67.8 L749.8 62.3 M746.3 62.1 L750 62.1 L750 65.8" stroke="#8a8a8a" stroke-width="0.9" fill="none"/>
<circle cx="327.5" cy="434.4" r="11.8" fill="#fff" fill-opacity="0.9" stroke="#c6c6c6" stroke-width="1"/>
<path d="M330.2 429.6 L330.2 439.8 L321.6 434.7 Z" fill="none" stroke="#a0a0a0" stroke-width="1" stroke-linejoin="round"/>
<circle cx="358.5" cy="434.4" r="11.8" fill="#fff" fill-opacity="0.9" stroke="#c6c6c6" stroke-width="1"/>
<circle cx="356.6" cy="432.8" r="4.3" fill="none" stroke="#a0a0a0" stroke-width="1"/>
<path d="M354.3 432.8 H358.9 M359.8 436.1 L363.8 439.8" stroke="#a0a0a0" stroke-width="1.1" fill="none"/>
<circle cx="389.6" cy="434.4" r="11.8" fill="#fff" fill-opacity="0.9" stroke="#c6c6c6" stroke-width="1"/>
<path d="M383.7 429.6 L383.7 439.8 L391.3 434.7 Z M392.2 429.5 V439.9 H394.5 V429.5 Z" fill="none" stroke="#a0a0a0" stroke-width="1" stroke-linejoin="round"/>
<circle cx="420.5" cy="434.4" r="11.8" fill="#fff" fill-opacity="0.9" stroke="#c6c6c6" stroke-width="1"/>
<circle cx="418.6" cy="432.8" r="4.3" fill="none" stroke="#a0a0a0" stroke-width="1"/>
<path d="M416.3 432.8 H420.9 M418.6 430.5 V435.1 M421.8 436.1 L425.8 439.8" stroke="#a0a0a0" stroke-width="1.1" fill="none"/>
<circle cx="451.6" cy="434.4" r="11.8" fill="#fff" fill-opacity="0.9" stroke="#c6c6c6" stroke-width="1"/>
<path d="M448.6 429.6 L448.6 439.8 L457 434.7 Z" fill="none" stroke="#a0a0a0" stroke-width="1" stroke-linejoin="round"/>
<rect x="12" y="454" width="754" height="1" fill="#3c3c3c"/>
<rect x="765" y="47" width="1" height="408" fill="#3c3c3c"/>
<rect x="764.5" y="47" width="50.5" height="1" fill="#222"/>
<text x="770.3" y="96.9" font-size="9.7" fill="#555" textLength="35.5" lengthAdjust="spacing">1.33000</text>
<text x="770.3" y="151.9" font-size="9.7" fill="#555" textLength="35.5" lengthAdjust="spacing">1.32500</text>
<text x="770.3" y="206.9" font-size="9.7" fill="#555" textLength="35.5" lengthAdjust="spacing">1.32000</text>
<text x="770.3" y="261.9" font-size="9.7" fill="#555" textLength="35.5" lengthAdjust="spacing">1.31500</text>
<text x="770.3" y="316.9" font-size="9.7" fill="#555" textLength="35.5" lengthAdjust="spacing">1.31000</text>
<text x="770.3" y="371.9" font-size="9.7" fill="#555" textLength="35.5" lengthAdjust="spacing">1.30500</text>
<text x="770.3" y="426.9" font-size="9.7" fill="#555" textLength="35.5" lengthAdjust="spacing">1.30000</text>
<rect x="764.6" y="175.3" width="50" height="12.4" fill="#9e0b1c" stroke="#222" stroke-width="0.9"/>
<text x="769.3" y="185.0" font-size="9.7" fill="#fff" font-weight="bold">1.32210</text>
<rect x="764.6" y="203.2" width="50" height="12.4" fill="#ffa800" stroke="#222" stroke-width="0.9"/>
<text x="769.3" y="212.9" font-size="9.7" fill="#222" font-weight="normal">1.31956</text>
<rect x="764.6" y="229.5" width="50.4" height="12.6" fill="#dc5241"/>
<text x="769.3" y="238.8" font-size="9.7" fill="#fff" font-weight="bold">1.31727</text>
<rect x="764.6" y="224.2" width="50" height="12.4" fill="#c9529e" stroke="#222" stroke-width="0.9"/>
<text x="769.3" y="233.9" font-size="9.7" fill="#fff" font-weight="bold">1.31767</text>
<rect x="764.6" y="243.3" width="50" height="12.4" fill="#2e8a0c" stroke="#222" stroke-width="0.9"/>
<text x="769.3" y="253.0" font-size="9.7" fill="#fff" font-weight="bold">1.31593</text>
<rect x="764.6" y="276.4" width="50" height="12.4" fill="#a420d0" stroke="#222" stroke-width="0.9"/>
<text x="769.3" y="286.1" font-size="9.7" fill="#fff" font-weight="bold">1.31292</text>
<rect x="764.6" y="373.4" width="50" height="12.4" fill="#7f601f" stroke="#222" stroke-width="0.9"/>
<text x="769.3" y="383.1" font-size="9.7" fill="#fff" font-weight="bold">1.30415</text>
<text x="29.9" y="466.8" font-size="10" fill="#444" textLength="22.5" lengthAdjust="spacingAndGlyphs">08:00</text>
<text x="109.9" y="466.8" font-size="10" fill="#444" textLength="22.5" lengthAdjust="spacingAndGlyphs">16:00</text>
<text x="189.6" y="468.1" font-size="13" font-weight="bold" fill="#444" textLength="13.4" lengthAdjust="spacingAndGlyphs">21</text>
<text x="254.9" y="466.8" font-size="10" fill="#444" textLength="22.5" lengthAdjust="spacingAndGlyphs">08:00</text>
<text x="334.4" y="466.8" font-size="10" fill="#444" textLength="22.5" lengthAdjust="spacingAndGlyphs">16:00</text>
<text x="415.1" y="468.1" font-size="13" font-weight="bold" fill="#444" textLength="13.4" lengthAdjust="spacingAndGlyphs">22</text>
<text x="479.9" y="466.8" font-size="10" fill="#444" textLength="22.5" lengthAdjust="spacingAndGlyphs">08:00</text>
<text x="558.9" y="466.8" font-size="10" fill="#444" textLength="22.5" lengthAdjust="spacingAndGlyphs">16:00</text>
<text x="612.6" y="468.1" font-size="13" font-weight="bold" fill="#444" textLength="13.4" lengthAdjust="spacingAndGlyphs">23</text>
<text x="704.9" y="466.8" font-size="10" fill="#444" textLength="22.5" lengthAdjust="spacingAndGlyphs">08:00</text>
<text x="764.9" y="466.8" font-size="10" fill="#444" textLength="45.2" lengthAdjust="spacingAndGlyphs">25.03.2019</text>
<rect x="12" y="474" width="248" height="1" fill="#e4e4e4"/>
<rect x="328.5" y="474" width="486.5" height="1" fill="#e8e8e8"/>
<path d="M12.9 514.0 L12.9 487.7 L16.3 483.4 L18.0 486.5 L20.2 490.3 L22.3 486.0 L25.7 487.2 L30.8 486.5 L34.3 490.3 L38.6 492.8 L42.8 493.4 L47.1 494.0 L50.5 491.6 L53.5 497.1 L58.3 493.4 L61.7 494.0 L66.0 496.8 L70.3 495.4 L75.4 494.0 L80.5 492.8 L87.4 493.2 L91.7 496.3 L95.1 495.8 L97.7 501.4 L102.8 499.7 L107.1 499.4 L111.4 501.4 L114.8 507.1 L118.2 509.1 L122.0 511.2 L126.8 508.3 L130.2 502.3 L133.4 496.3 L136.0 493.7 L138.6 483.1 L141.1 488.2 L143.7 489.4 L146.3 487.2 L148.5 492.0 L150.2 498.0 L151.4 496.3 L153.1 500.6 L155.2 496.3 L156.6 500.9 L159.1 501.9 L163.4 500.6 L166.8 494.6 L171.1 489.4 L173.7 485.1 L175.4 474.9 L177.1 479.7 L180.5 485.1 L183.1 483.8 L184.8 479.7 L186.9 485.1 L189.1 483.4 L190.8 485.1 L192.5 483.8 L194.3 487.2 L197.7 486.0 L202.0 486.5 L206.3 484.3 L211.4 482.6 L217.4 482.7 L223.4 483.1 L226.0 485.1 L230.2 487.7 L234.5 485.5 L239.7 484.3 L243.1 483.4 L244.8 481.7 L247.4 484.8 L249.9 483.8 L254.2 484.8 L258.5 486.0 L260.0 486.3 L260.0 514.0 Z" fill="#eef4fe"/>
<polyline points="12.9,487.7 16.3,483.4 18.0,486.5 20.2,490.3 22.3,486.0 25.7,487.2 30.8,486.5 34.3,490.3 38.6,492.8 42.8,493.4 47.1,494.0 50.5,491.6 53.5,497.1 58.3,493.4 61.7,494.0 66.0,496.8 70.3,495.4 75.4,494.0 80.5,492.8 87.4,493.2 91.7,496.3 95.1,495.8 97.7,501.4 102.8,499.7 107.1,499.4 111.4,501.4 114.8,507.1 118.2,509.1 122.0,511.2 126.8,508.3 130.2,502.3 133.4,496.3 136.0,493.7 138.6,483.1 141.1,488.2 143.7,489.4 146.3,487.2 148.5,492.0 150.2,498.0 151.4,496.3 153.1,500.6 155.2,496.3 156.6,500.9 159.1,501.9 163.4,500.6 166.8,494.6 171.1,489.4 173.7,485.1 175.4,474.9 177.1,479.7 180.5,485.1 183.1,483.8 184.8,479.7 186.9,485.1 189.1,483.4 190.8,485.1 192.5,483.8 194.3,487.2 197.7,486.0 202.0,486.5 206.3,484.3 211.4,482.6 217.4,482.7 223.4,483.1 226.0,485.1 230.2,487.7 234.5,485.5 239.7,484.3 243.1,483.4 244.8,481.7 247.4,484.8 249.9,483.8 254.2,484.8 258.5,486.0 260.0,486.3" fill="none" stroke="#c4d9fa" stroke-width="1"/>
<path d="M261.7 514.0 L261.7 486.5 L264.6 488.2 L265.8 491.6 L267.5 488.9 L268.8 491.1 L270.2 486.8 L272.3 490.3 L275.7 488.9 L278.3 489.9 L280.0 488.9 L282.6 493.7 L284.3 495.4 L285.6 493.7 L287.7 502.3 L291.1 497.5 L295.4 496.3 L299.7 495.1 L301.1 497.5 L304.0 492.0 L306.5 489.4 L310.0 489.4 L314.3 491.1 L318.5 491.1 L320.3 489.4 L321.6 493.7 L321.6 514.0 Z" fill="#dde9fd"/>
<polyline points="261.7,486.5 264.6,488.2 265.8,491.6 267.5,488.9 268.8,491.1 270.2,486.8 272.3,490.3 275.7,488.9 278.3,489.9 280.0,488.9 282.6,493.7 284.3,495.4 285.6,493.7 287.7,502.3 291.1,497.5 295.4,496.3 299.7,495.1 301.1,497.5 304.0,492.0 306.5,489.4 310.0,489.4 314.3,491.1 318.5,491.1 320.3,489.4 321.6,493.7" fill="none" stroke="#a6c8fb" stroke-width="1"/>
<rect x="12.8" y="493.7" width="1.2" height="20.3" fill="#dadada"/>
<rect x="43.7" y="506" width="1" height="8" fill="#e0e0e0"/>
<rect x="74.4" y="506" width="1" height="8" fill="#e0e0e0"/>
<rect x="105.2" y="506" width="1" height="8" fill="#e0e0e0"/>
<rect x="135.9" y="506" width="1" height="8" fill="#e0e0e0"/>
<rect x="166.6" y="493.7" width="1.2" height="20.3" fill="#dadada"/>
<rect x="197.4" y="506" width="1" height="8" fill="#e0e0e0"/>
<rect x="228.2" y="506" width="1" height="8" fill="#e0e0e0"/>
<rect x="258.9" y="506" width="1" height="8" fill="#e0e0e0"/>
<rect x="289.7" y="506" width="1" height="8" fill="#e0e0e0"/>
<rect x="320.3" y="493.7" width="1.2" height="20.3" fill="#c9c9e6"/>
<rect x="351.2" y="506" width="1" height="8" fill="#e0e0e0"/>
<rect x="382.0" y="506" width="1" height="8" fill="#e0e0e0"/>
<rect x="412.7" y="506" width="1" height="8" fill="#e0e0e0"/>
<rect x="443.5" y="506" width="1" height="8" fill="#e0e0e0"/>
<rect x="474.1" y="493.7" width="1.2" height="20.3" fill="#dadada"/>
<rect x="505.0" y="506" width="1" height="8" fill="#e0e0e0"/>
<rect x="535.7" y="506" width="1" height="8" fill="#e0e0e0"/>
<rect x="566.5" y="506" width="1" height="8" fill="#e0e0e0"/>
<rect x="597.2" y="506" width="1" height="8" fill="#e0e0e0"/>
<rect x="627.9" y="493.7" width="1.2" height="20.3" fill="#dadada"/>
<rect x="658.8" y="506" width="1" height="8" fill="#e0e0e0"/>
<rect x="689.5" y="506" width="1" height="8" fill="#e0e0e0"/>
<rect x="720.3" y="506" width="1" height="8" fill="#e0e0e0"/>
<rect x="751.0" y="506" width="1" height="8" fill="#e0e0e0"/>
<rect x="781.7" y="493.7" width="1.2" height="20.3" fill="#dadada"/>
<rect x="812.5" y="506" width="1" height="8" fill="#e0e0e0"/>
<rect x="259.6" y="473.8" width="1" height="40.2" fill="#cfcfcf"/>
<rect x="260.6" y="473.8" width="1.1" height="40.2" fill="#9c9c9c"/>
<rect x="326.4" y="473.8" width="1" height="40.2" fill="#cfcfcf"/>
<rect x="327.4" y="473.8" width="1.1" height="40.2" fill="#9c9c9c"/>
<rect x="694.5" y="16.5" width="33.5" height="27.0" fill="#fff" stroke="#d9d9d9" stroke-width="1"/>
<rect x="7.5" y="16.5" width="33.2" height="27.0" fill="#fff" stroke="#d9d9d9" stroke-width="1"/>
<rect x="15.9" y="24.5" width="18.1" height="1.6" fill="#111"/>
<rect x="15.9" y="29.1" width="18.1" height="1.6" fill="#111"/>
<rect x="15.9" y="34.4" width="18.1" height="1.6" fill="#111"/>
<rect x="45.2" y="16.5" width="109.3" height="27.0" fill="#fff" stroke="#d9d9d9" stroke-width="1"/>
<text x="50.4" y="33.8" font-size="12" fill="#222">GBP/USD</text>
<path d="M151.0 39.8 L145.4 39.8 L151.0 34.2 Z" fill="#8c8c8c"/>
<rect x="159.4" y="16.5" width="44.1" height="27.0" fill="#fff" stroke="#d9d9d9" stroke-width="1"/>
<text x="172.4" y="34" font-size="12" font-weight="bold" fill="#222">1H</text>
<path d="M200.0 39.8 L194.4 39.8 L200.0 34.2 Z" fill="#8c8c8c"/>
<rect x="208.3" y="16.5" width="41.2" height="27.0" fill="#fff" stroke="#d9d9d9" stroke-width="1"/>
<text x="217.5" y="34" font-size="12" fill="#222">ASK</text>
<path d="M246.1 39.8 L240.5 39.8 L246.1 34.2 Z" fill="#8c8c8c"/>
<rect x="254.5" y="16.5" width="44.1" height="27.0" fill="#fff" stroke="#d9d9d9" stroke-width="1"/>
<rect x="268.3" y="23.6" width="1" height="9.8" fill="#9a9a9a"/>
<rect x="267.7" y="24.9" width="2.3" height="6.7" rx="0.8" fill="#111"/>
<rect x="272.4" y="28.5" width="1" height="7.4" fill="#9a9a9a"/>
<rect x="271.8" y="32.2" width="2.3" height="3.7" rx="0.8" fill="#111"/>
<rect x="276.6" y="27.3" width="1" height="6.1" fill="#9a9a9a"/>
<rect x="276.0" y="27.3" width="2.3" height="3.7" rx="0.8" fill="#111"/>
<rect x="280.6" y="24.0" width="1" height="8.2" fill="#9a9a9a"/>
<rect x="280.0" y="24.0" width="2.3" height="4.5" rx="0.8" fill="#111"/>
<path d="M295.0 39.8 L289.4 39.8 L295.0 34.2 Z" fill="#8c8c8c"/>
<rect x="303.4" y="16.5" width="33.5" height="27.0" fill="#fff" stroke="#d9d9d9" stroke-width="1"/>
<path d="M314.2 35.7 L315.27 33.07 L322.6 26.02 L324.2 27.68 L316.87 34.73 Z" fill="#111"/>
<path d="M322.95 25.67 L323.95 24.72 L325.55 26.38 L324.55 27.33 Z" fill="#111"/>
<path d="M333.0 39.8 L327.4 39.8 L333.0 34.2 Z" fill="#8c8c8c"/>
<rect x="341.3" y="16.5" width="33.5" height="27.0" fill="#fff" stroke="#d9d9d9" stroke-width="1"/>
<text x="349.2" y="33.8" font-size="15" font-style="italic" font-weight="bold" fill="#111" style="font-family:&quot;Liberation Serif&quot;, serif">f</text>
<text x="355.2" y="33.6" font-size="12" fill="#333" style="font-family:&quot;Liberation Serif&quot;, serif">(<tspan font-style="italic">x</tspan>)</text>
<rect x="379.2" y="16.5" width="44.3" height="27.0" fill="#fff" stroke="#d9d9d9" stroke-width="1"/>
<circle cx="400.3" cy="29.7" r="6.5" fill="none" stroke="#111" stroke-width="1.2"/>
<text x="400.5" y="34" font-size="13" font-style="italic" font-weight="bold" fill="#111" text-anchor="middle" style="font-family:&quot;Liberation Serif&quot;, serif">i</text>
<path d="M420.1 39.8 L414.5 39.8 L420.1 34.2 Z" fill="#8c8c8c"/>
<rect x="428.4" y="16.5" width="33.4" height="27.0" fill="#fff" stroke="#d9d9d9" stroke-width="1"/>
<rect x="437.2" y="30.1" width="1.8" height="8.6" fill="#111"/>
<rect x="441.8" y="26.9" width="1.8" height="11.8" fill="#111"/>
<rect x="446.4" y="31.3" width="1.8" height="7.4" fill="#111"/>
<rect x="451.0" y="23.6" width="1.8" height="15.1" fill="#111"/>
<rect x="466.2" y="16.5" width="33.4" height="27.0" fill="#fff" stroke="#d9d9d9" stroke-width="1"/>
<rect x="474.5" y="23.6" width="16.8" height="14.8" rx="1.5" fill="none" stroke="#111" stroke-width="1.2"/>
<rect x="478.0" y="20.8" width="1" height="4.6" fill="#111"/>
<rect x="482.3" y="20.8" width="1" height="4.6" fill="#111"/>
<rect x="486.8" y="20.8" width="1" height="4.6" fill="#111"/>
<rect x="478.1" y="27.7" width="2" height="1.6" fill="#111"/>
<rect x="478.1" y="30.5" width="2" height="1.6" fill="#111"/>
<rect x="478.1" y="33.3" width="2" height="1.6" fill="#111"/>
<rect x="482.0" y="27.7" width="2" height="1.6" fill="#111"/>
<rect x="482.0" y="30.5" width="2" height="1.6" fill="#111"/>
<rect x="482.0" y="33.3" width="2" height="1.6" fill="#111"/>
<rect x="486.0" y="27.7" width="2" height="1.6" fill="#111"/>
<rect x="486.0" y="30.5" width="2" height="1.6" fill="#111"/>
<rect x="486.0" y="33.3" width="2" height="1.6" fill="#111"/>
<rect x="504.2" y="16.5" width="33.4" height="27.0" fill="#fff" stroke="#d9d9d9" stroke-width="1"/>
<rect x="514.7" y="22.8" width="12.6" height="14.6" rx="0.8" fill="none" stroke="#111" stroke-width="1.1"/>
<path d="M516.6 25.5 H525.6 M516.6 27.9 H525.6 M522.4 31 H525.6 M522.4 34.3 H525.6" stroke="#111" stroke-width="0.9" fill="none"/>
<rect x="516.6" y="30.4" width="4.3" height="4.6" fill="#111"/>
<rect x="542.3" y="16.5" width="33.3" height="27.0" fill="#fff" stroke="#d9d9d9" stroke-width="1"/>
<path d="M553.5 29.2 H565 A1.2 1.2 0 0 1 566.2 30.4 V34 A4.5 4.5 0 0 1 561.7 38.4 H557 A4.5 4.5 0 0 1 552.4 34 V30.4 A1.2 1.2 0 0 1 553.5 29.2 Z" fill="#111"/>
<path d="M556.3 27.2 V25.6 A4.2 4.4 0 0 1 564.4 25.6 V29.5" fill="none" stroke="#111" stroke-width="1.7"/>
<circle cx="559.2" cy="32.4" r="1.1" fill="#fff"/><rect x="558.6" y="32.6" width="1.2" height="3.4" fill="#fff"/>
<rect x="580.3" y="16.5" width="33.4" height="27.0" fill="#fff" stroke="#d9d9d9" stroke-width="1"/>
<path d="M590.1 29.7 H601.7 M596 24 V35.3" stroke="#111" stroke-width="1.3" fill="none"/>
<path d="M598.8 32.6 L604.8 34.6 L602.2 35.6 L603.6 38 L602.5 38.6 L601.2 36.3 L599.6 38.2 Z" fill="#111"/>
<rect x="618.2" y="16.5" width="33.4" height="27.0" fill="#fff" stroke="#d9d9d9" stroke-width="1"/>
<circle cx="632.5" cy="27.7" r="5.4" fill="none" stroke="#111" stroke-width="1.2"/>
<path d="M636.6 31.9 L642.6 37.6" stroke="#111" stroke-width="1.8" fill="none"/>
<path d="M629 28.4 L630.8 26.5 L632 28.8 L633.8 26.2 L635.8 28.4" stroke="#111" stroke-width="0.9" fill="none"/>
<rect x="656.2" y="16.5" width="33.4" height="27.0" fill="#fff" stroke="#d9d9d9" stroke-width="1"/>
<path d="M670.2 35.4 H666.8 A3.3 3.3 0 0 1 666.4 28.8 A4.9 4.9 0 0 1 675.6 26.4 A3 3 0 0 1 678.4 28.4 A3.7 3.7 0 0 1 677.6 35.4 H673.9" fill="none" stroke="#111" stroke-width="1.1"/>
<path d="M672 37.8 V31.5" stroke="#111" stroke-width="1.6"/><path d="M668.8 32.6 L672 28.6 L675.2 32.6 Z" fill="#111"/>
<path d="M686.1 39.8 L680.5 39.8 L686.1 34.2 Z" fill="#8c8c8c"/>
<path d="M708.4 35.4 H705.0 A3.3 3.3 0 0 1 704.6 28.8 A4.9 4.9 0 0 1 713.8 26.4 A3 3 0 0 1 716.6 28.4 A3.7 3.7 0 0 1 715.8 35.4 H712.1" fill="none" stroke="#111" stroke-width="1.1"/>
<path d="M710.2 29 V34.6" stroke="#111" stroke-width="1.6"/><path d="M707 33.6 L710.2 37.8 L713.4 33.6 Z" fill="#111"/>
<path d="M724.4 39.8 L718.8 39.8 L724.4 34.2 Z" fill="#8c8c8c"/>
<rect x="722.2" y="15" width="4" height="30" fill="#fff"/>
<rect x="725.3" y="16.5" width="27.4" height="27.0" fill="#fff" stroke="#d9d9d9" stroke-width="1"/>
<rect x="752.7" y="16.5" width="27.1" height="27.0" fill="#fff" stroke="#d9d9d9" stroke-width="1"/>
<path d="M743.2 23.4 L735.3 29.9 L743.2 36.5" fill="none" stroke="#111" stroke-width="1.8"/>
<path d="M762 23.4 L769.9 29.9 L762 36.5" fill="none" stroke="#111" stroke-width="1.8"/>
<path d="M797.61 24.89 L798.29 24.41 L798.97 22.23 L800.23 22.23 L800.91 24.41 L801.59 24.89 L801.67 24.92 L802.48 25.06 L804.51 24.00 L805.40 24.89 L804.34 26.92 L804.48 27.73 L804.51 27.81 L804.99 28.49 L807.17 29.17 L807.17 30.43 L804.99 31.11 L804.51 31.79 L804.48 31.87 L804.34 32.68 L805.40 34.71 L804.51 35.60 L802.48 34.54 L801.67 34.68 L801.59 34.71 L800.91 35.19 L800.23 37.37 L798.97 37.37 L798.29 35.19 L797.61 34.71 L797.53 34.68 L796.72 34.54 L794.69 35.60 L793.80 34.71 L794.86 32.68 L794.72 31.87 L794.69 31.79 L794.21 31.11 L792.03 30.43 L792.03 29.17 L794.21 28.49 L794.69 27.81 L794.72 27.73 L794.86 26.92 L793.80 24.89 L794.69 24.00 L796.72 25.06 L797.53 24.92 Z M796.50 29.80 a3.10 3.10 0 1 0 6.20 0 a3.10 3.10 0 1 0 -6.20 0 Z" fill="#000" fill-rule="evenodd" stroke="#000" stroke-width="0.6" stroke-linejoin="round"/>
</svg>
</body></html>
